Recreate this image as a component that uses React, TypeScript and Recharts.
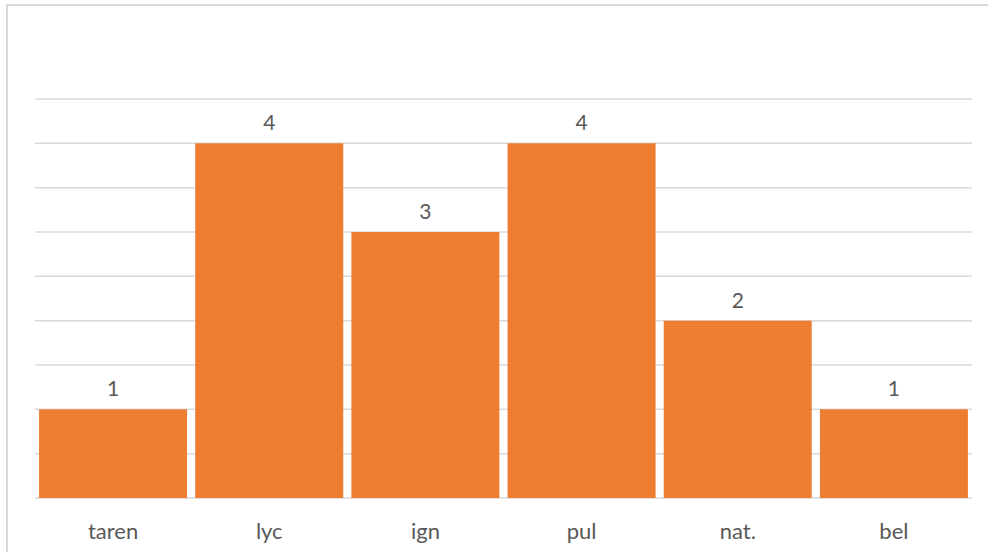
import { BarChart, Bar, XAxis, YAxis, CartesianGrid, LabelList } from "recharts";

const categories = ["taren", "lyc", "ign", "pul", "nat.", "bel"];
const counts = [1, 4, 3, 4, 2, 1];
const yTicks = [0, 0.5, 1, 1.5, 2, 2.5, 3, 3.5, 4, 4.5];

const data = categories.map((name, i) => ({ name, count: counts[i] }));

const TEXT = "#595959";
const FONT = "Lato, 'Open Sans', sans-serif";

// gridlines need the y ticks, but the reference shows no y labels
const NoTick = () => <g />;

export default function App() {
  return (
    <div
      style={{
        position: "absolute",
        left: 0,
        top: 0,
        width: 988,
        height: 552,
        overflow: "hidden",
        background: "#fff",
      }}
    >
      {/* chart frame, cropped at the right and bottom edges */}
      <div
        style={{
          position: "absolute",
          left: 6,
          top: 4,
          width: 1000,
          height: 600,
          border: "2px solid #d9d9d9",
          boxSizing: "border-box",
        }}
      />
      <div style={{ position: "absolute", left: 0, top: 0 }}>
        <BarChart
          width={988}
          height={552}
          data={data}
          margin={{ top: 99, right: 16, bottom: 0, left: 34 }}
          barCategoryGap="2.6%"
        >
          <CartesianGrid vertical={false} stroke="#d9d9d9" strokeWidth={1.5} />
          <YAxis
            type="number"
            domain={[0, 4.5]}
            ticks={yTicks}
            interval={0}
            width={1}
            tick={NoTick}
            axisLine={false}
            tickLine={false}
          />
          <XAxis
            dataKey="name"
            height={54}
            axisLine={false}
            tickLine={false}
            tickSize={0}
            tickMargin={25}
            tick={{ fill: TEXT, fontSize: 22, fontFamily: FONT }}
          />
          <Bar dataKey="count" fill="#ed7d31" isAnimationActive={false}>
            <LabelList
              dataKey="count"
              position="top"
              offset={13}
              fill={TEXT}
              fontSize={21}
              fontFamily={FONT}
            />
          </Bar>
        </BarChart>
      </div>
    </div>
  );
}
